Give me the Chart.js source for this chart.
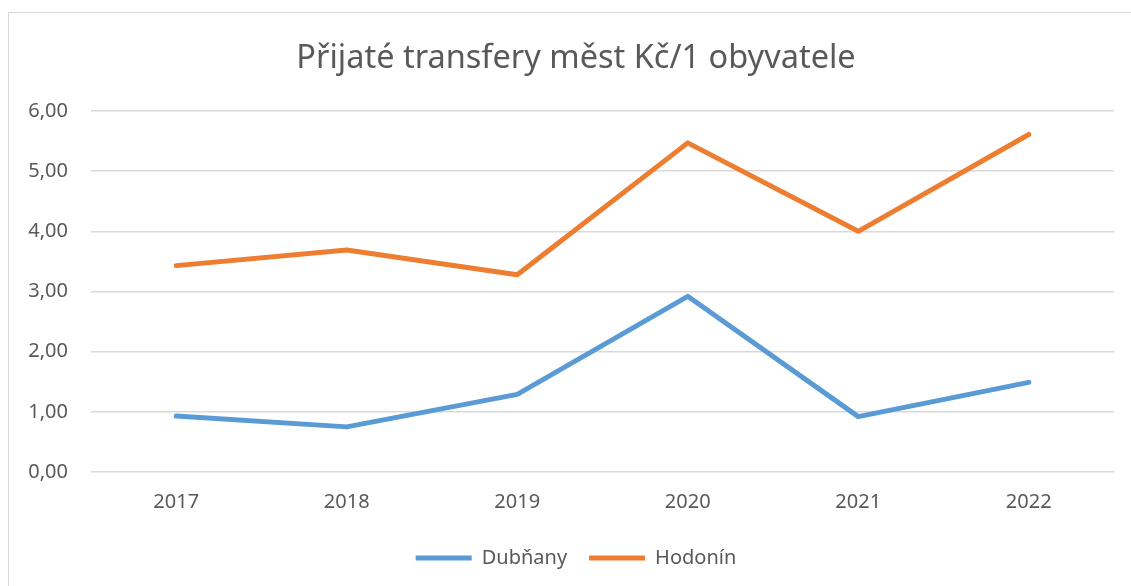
<!DOCTYPE html>
<html lang="cs">
<head>
<meta charset="utf-8">
<title>Přijaté transfery měst Kč/1 obyvatele</title>
<script src="https://cdn.jsdelivr.net/npm/chart.js@4.4.1/dist/chart.umd.min.js"></script>
<style>
  html, body { margin: 0; padding: 0; background: #fff; overflow: hidden; }
  .frame {
    position: absolute;
    left: 8px;
    top: 12px;
    width: 1150px;
    height: 600px;
    border: 1.5px solid #d9d9d9;
    box-sizing: border-box;
  }
  #chart { position: absolute; left: 8px; top: 12px; }
</style>
</head>
<body>
<div class="frame"></div>
<canvas id="chart" width="1136" height="574"></canvas>
<script>
// data
const years = ['2017', '2018', '2019', '2020', '2021', '2022'];
const dubnany = [0.93, 0.75, 1.29, 2.92, 0.92, 1.49];
const hodonin = [3.43, 3.69, 3.28, 5.47, 4.00, 5.61];
const seriesNames = ['Dubňany', 'Hodonín'];
const seriesColors = ['#5b9bd5', '#ed7d31'];

const textColor = '#595959';
const gridColor = '#d9d9d9';
const fontFamily = '"Noto Sans", "Open Sans", sans-serif';

function formatTick(value) {
  return Number(value).toFixed(2).replace('.', ',');
}

function lineDataset(label, data, color) {
  return {
    label,
    data,
    yAxisID: 'y',
    borderColor: color,
    backgroundColor: color,
    borderWidth: 5,
    borderCapStyle: 'round',
    borderJoinStyle: 'round',
    pointRadius: 0,
    pointHoverRadius: 0,
    pointStyle: 'line',
    tension: 0,
    fill: false
  };
}

const ctx = document.getElementById('chart').getContext('2d');
new Chart(ctx, {
  type: 'line',
  data: {
    labels: years,
    datasets: [
      lineDataset(seriesNames[0], dubnany, seriesColors[0]),
      lineDataset(seriesNames[1], hodonin, seriesColors[1])
    ]
  },
  options: {
    responsive: false,
    animation: false,
    layout: { padding: { left: 0, right: 0, top: 0, bottom: 8 } },
    scales: {
      x: {
        offset: true,
        grid: { display: false },
        border: { display: false },
        ticks: {
          color: textColor,
          padding: 10,
          font: { family: fontFamily, size: 20 }
        },
        afterFit(scale) { scale.height = 54; }
      },
      y: {
        min: 0,
        max: 6,
        grid: { color: gridColor, lineWidth: 1.5, drawTicks: false },
        border: { display: false },
        ticks: {
          stepSize: 1,
          color: textColor,
          padding: 23,
          font: { family: fontFamily, size: 20 },
          callback: formatTick
        },
        afterFit(scale) { scale.width = 83; }
      },
      // empty right axis, only reserves the blank strip right of the plot
      // so title and legend stay centred on the whole frame
      spacer: {
        position: 'right',
        grid: { display: false },
        border: { display: false },
        ticks: { display: false },
        afterFit(scale) { scale.width = 30; }
      }
    },
    plugins: {
      title: {
        display: true,
        text: 'Přijaté transfery měst Kč/1 obyvatele',
        color: textColor,
        font: { family: fontFamily, size: 32.5, weight: 'normal' },
        padding: { top: 27, bottom: 33 }
      },
      legend: {
        position: 'bottom',
        labels: {
          color: textColor,
          usePointStyle: true,
          pointStyleWidth: 56,
          padding: 22,
          font: { family: fontFamily, size: 20 }
        }
      },
      tooltip: { enabled: false }
    }
  }
});
</script>
</body>
</html>
